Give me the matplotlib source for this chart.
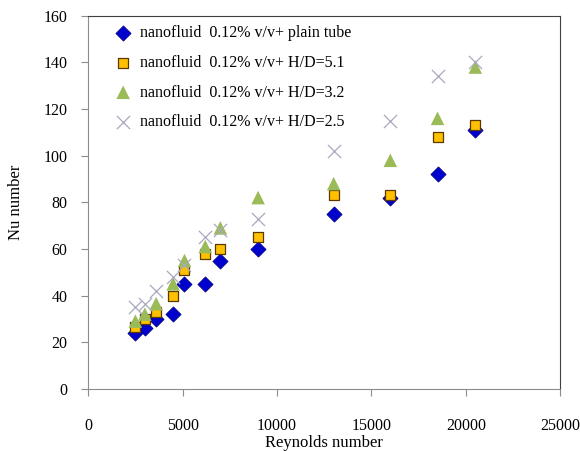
import numpy as np
import matplotlib.pyplot as plt

plt.rcParams['font.family'] = ['Liberation Serif', 'DejaVu Serif']

re_vals = [2500, 3000, 3600, 4500, 5100, 6200, 7000, 9000, 13000, 16000, 18500, 20500]
nu_plain = [24, 26, 30, 32, 45, 45, 55, 60, 75, 82, 92.3, 111]
nu_hd51 = [26.5, 30, 33, 40, 51, 58, 60, 65, 83, 83, 108, 113]
nu_hd32 = [29, 32, 36.5, 45, 55, 61, 69, 82, 88, 98, 116, 138]
nu_hd25 = [35, 36.5, 42, 48, 53, 65, 68, 73, 102, 115, 134, 140]

labels = ["nanofluid  0.12% v/v+ plain tube",
          "nanofluid  0.12% v/v+ H/D=5.1",
          "nanofluid  0.12% v/v+ H/D=3.2",
          "nanofluid  0.12% v/v+ H/D=2.5"]

def main():
	fig = plt.figure(figsize=(5.8, 4.51), dpi=100)
	ax = fig.add_axes([0.152, 0.138, 0.814, 0.827])

	ax.scatter(re_vals, nu_plain, marker='D', s=60, color='#0000CC',
	           edgecolors='#000080', linewidths=0.5, label=labels[0], zorder=3)
	ax.scatter(re_vals, nu_hd51, marker='s', s=55, color='#FFC000',
	           edgecolors='#5A3A00', linewidths=0.9, label=labels[1], zorder=3)
	ax.scatter(re_vals, nu_hd32, marker='^', s=95, color='#9BBB59',
	           edgecolors='none', label=labels[2], zorder=3)
	ax.scatter(re_vals, nu_hd25, marker='x', s=90, color='#A8A8C0',
	           linewidths=0.9, label=labels[3], zorder=3)

	ax.set_xlim(0, 25000)
	ax.set_ylim(0, 160)
	ax.set_xticks(np.arange(0, 25001, 5000))
	ax.set_yticks(np.arange(0, 161, 20))

	for side in ['left', 'bottom']:
		ax.spines[side].set_color('#8C8C8C')
	for side in ['top', 'right']:
		ax.spines[side].set_color('#404040')
	ax.tick_params(axis='both', colors='#8C8C8C', labelcolor='black',
	               labelsize=11.5, length=5, direction='out')
	ax.tick_params(axis='x', pad=16)
	ax.tick_params(axis='y', pad=10)

	ax.set_xlabel("Reynolds number", fontsize=12, labelpad=1)
	ax.set_ylabel("Nu number", fontsize=12, labelpad=14)

	ax.legend(loc='upper left', frameon=False, fontsize=11.5,
	          handletextpad=0.05, labelspacing=0.85,
	          bbox_to_anchor=(0.02, 1.0), borderaxespad=0.2,
	          scatterpoints=1)

	fig.savefig("out.png", dpi=100)

if __name__ == "__main__":
	main()
